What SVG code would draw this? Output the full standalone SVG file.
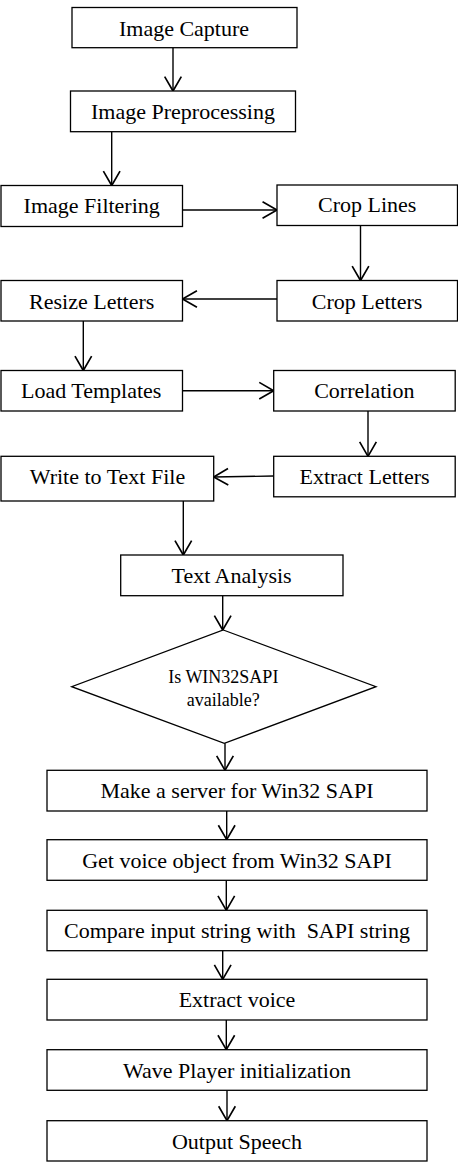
<svg xmlns="http://www.w3.org/2000/svg" width="458" height="1162" viewBox="0 0 458 1162">
<style>
.box{fill:#fff;stroke:#000;stroke-width:1.3}
.t{font-family:"Liberation Serif","Times New Roman",serif;font-size:22px;fill:#000;text-anchor:middle;white-space:pre}
.ts{font-family:"Liberation Serif","Times New Roman",serif;font-size:18px;fill:#000;text-anchor:middle}
.c{fill:none;stroke:#000;stroke-width:1.4}
</style>
<defs>
<marker id="arr" markerUnits="userSpaceOnUse" markerWidth="20" markerHeight="20" viewBox="-14 -9 16 18" refX="0" refY="0" orient="auto">
<path d="M-13,-7.5 L0,0 L-13,7.5" fill="none" stroke="#000" stroke-width="1.5"/>
</marker>
</defs>
<rect width="458" height="1162" fill="#fff"/>
<g id="connectors">
<line class="c" x1="173" y1="47.7" x2="173" y2="91" marker-end="url(#arr)"/>
<line class="c" x1="111.7" y1="131.7" x2="111.7" y2="185.5" marker-end="url(#arr)"/>
<line class="c" x1="182.5" y1="210" x2="277" y2="210" marker-end="url(#arr)"/>
<line class="c" x1="360.5" y1="225.5" x2="360.5" y2="280.5" marker-end="url(#arr)"/>
<line class="c" x1="277" y1="299" x2="182.5" y2="299" marker-end="url(#arr)"/>
<line class="c" x1="83.3" y1="321" x2="83.3" y2="370.5" marker-end="url(#arr)"/>
<line class="c" x1="182.5" y1="390.7" x2="273.7" y2="390.7" marker-end="url(#arr)"/>
<line class="c" x1="368" y1="411" x2="368" y2="456.3" marker-end="url(#arr)"/>
<line class="c" x1="273.7" y1="476" x2="213.7" y2="477" marker-end="url(#arr)"/>
<line class="c" x1="183.3" y1="501" x2="183.3" y2="555" marker-end="url(#arr)"/>
<line class="c" x1="222.7" y1="595.7" x2="222.7" y2="630" marker-end="url(#arr)"/>
<line class="c" x1="225" y1="743.3" x2="225" y2="770.3" marker-end="url(#arr)"/>
<line class="c" x1="226.7" y1="811" x2="226.7" y2="839.7" marker-end="url(#arr)"/>
<line class="c" x1="226.3" y1="880.3" x2="226.3" y2="910.3" marker-end="url(#arr)"/>
<line class="c" x1="222.7" y1="950.7" x2="222.7" y2="979.3" marker-end="url(#arr)"/>
<line class="c" x1="226.3" y1="1020" x2="226.3" y2="1049.7" marker-end="url(#arr)"/>
<line class="c" x1="227" y1="1090.3" x2="227" y2="1120.7" marker-end="url(#arr)"/>
</g>
<g id="n-image-capture"><rect class="box" x="72" y="7.5" width="225" height="40.2"/><text class="t" x="184" y="35.7">Image Capture</text></g>
<g id="n-image-preprocessing"><rect class="box" x="70.5" y="91" width="225" height="40.7"/><text class="t" x="183" y="119.3">Image Preprocessing</text></g>
<g id="n-image-filtering"><rect class="box" x="1" y="185.5" width="181.5" height="41"/><text class="t" x="91.7" y="213.3">Image Filtering</text></g>
<g id="n-crop-lines"><rect class="box" x="277" y="185" width="180.5" height="40.5"/><text class="t" x="367.2" y="212.3">Crop Lines</text></g>
<g id="n-resize-letters"><rect class="box" x="1" y="280.5" width="181.5" height="40.5"/><text class="t" x="91.7" y="309">Resize Letters</text></g>
<g id="n-crop-letters"><rect class="box" x="277" y="280.5" width="180.5" height="40.5"/><text class="t" x="367" y="309">Crop Letters</text></g>
<g id="n-load-templates"><rect class="box" x="1" y="370.5" width="181.5" height="40.5"/><text class="t" x="91.2" y="398.3">Load Templates</text></g>
<g id="n-correlation"><rect class="box" x="273.7" y="370.5" width="181.5" height="40.5"/><text class="t" x="364.3" y="398.3">Correlation</text></g>
<g id="n-write-text-file"><rect class="box" x="1" y="456.3" width="212.7" height="44.7"/><text class="t" x="107.5" y="484.3">Write to Text File</text></g>
<g id="n-extract-letters"><rect class="box" x="273.7" y="456.3" width="181.5" height="40.5"/><text class="t" x="364.5" y="484.3">Extract Letters</text></g>
<g id="n-text-analysis"><rect class="box" x="120.7" y="555" width="222.3" height="40.7"/><text class="t" x="231.6" y="582.7">Text Analysis</text></g>
<g id="n-decision"><polygon class="box" points="223.3,630 376,686.7 224.3,743.3 71.7,686.7"/><text class="ts" x="223.3" y="682.7">Is WIN32SAPI</text><text class="ts" x="223.3" y="706">available?</text></g>
<g id="n-make-server"><rect class="box" x="47" y="770.3" width="380" height="40.7"/><text class="t" x="237" y="798.3">Make a server for Win32 SAPI</text></g>
<g id="n-get-voice"><rect class="box" x="47" y="839.7" width="380" height="40.6"/><text class="t" x="237" y="867.7">Get voice object from Win32 SAPI</text></g>
<g id="n-compare"><rect class="box" x="47" y="910.3" width="380" height="40.4"/><text class="t" x="237" y="938.3">Compare input string with  SAPI string</text></g>
<g id="n-extract-voice"><rect class="box" x="47" y="979.3" width="380" height="40.7"/><text class="t" x="237" y="1007.3">Extract voice</text></g>
<g id="n-wave-player"><rect class="box" x="47" y="1049.7" width="380" height="40.6"/><text class="t" x="237" y="1078.3">Wave Player initialization</text></g>
<g id="n-output-speech"><rect class="box" x="47" y="1120.7" width="380" height="40.3"/><text class="t" x="237" y="1149">Output Speech</text></g>
</svg>
